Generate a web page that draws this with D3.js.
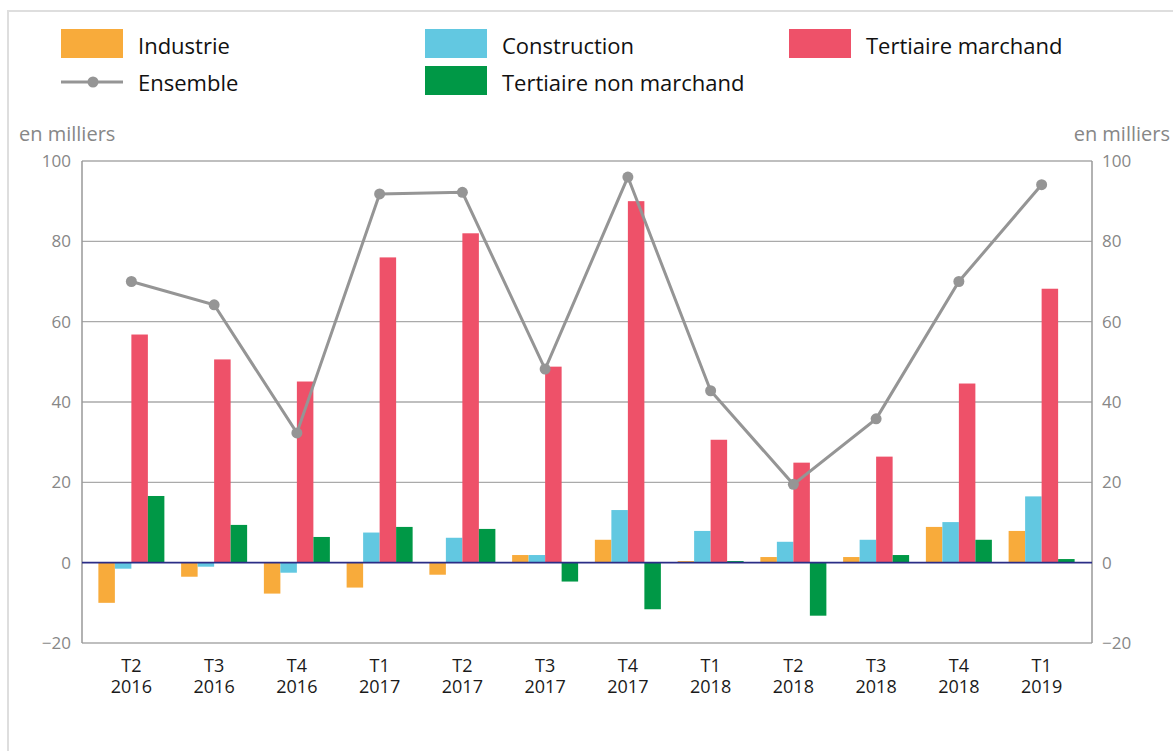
<!DOCTYPE html>
<html>
<head>
<meta charset="utf-8">
<script src="https://cdn.jsdelivr.net/npm/d3@7"></script>
<style>
  html, body { margin: 0; padding: 0; background: #fff; }
  svg { display: block; font-family: "Open Sans", "Noto Sans", sans-serif; }
</style>
</head>
<body>
<svg id="chart" width="1173" height="751"></svg>
<script>
// quarters, two-line labels
const quarters = ["T2", "T3", "T4", "T1", "T2", "T3", "T4", "T1", "T2", "T3", "T4", "T1"];
const years = ["2016", "2016", "2016", "2017", "2017", "2017", "2017", "2018", "2018", "2018", "2018", "2019"];

const industrie = [-10.0, -3.5, -7.7, -6.2, -3.0, 1.9, 5.7, 0.4, 1.4, 1.4, 8.9, 7.9];
const construction = [-1.5, -1.0, -2.5, 7.5, 6.2, 1.9, 13.1, 7.9, 5.2, 5.7, 10.1, 16.5];
const tertMarchand = [56.8, 50.6, 45.1, 76.0, 82.0, 48.8, 90.0, 30.6, 24.9, 26.4, 44.6, 68.2];
const tertNonMarchand = [16.6, 9.4, 6.4, 8.9, 8.4, -4.7, -11.6, 0.4, -13.2, 1.9, 5.7, 0.9];
const ensemble = [70.0, 64.2, 32.3, 91.8, 92.2, 48.2, 96.0, 42.8, 19.5, 35.8, 70.0, 94.1];

const yTicks = [-20, 0, 20, 40, 60, 80, 100];

const series = [
  { name: "Industrie", values: industrie, color: "#f8ab3b" },
  { name: "Construction", values: construction, color: "#62c8e1" },
  { name: "Tertiaire marchand", values: tertMarchand, color: "#ee5169" },
  { name: "Tertiaire non marchand", values: tertNonMarchand, color: "#009846" }
];
const lineColor = "#959595";

const svg = d3.select("#chart");

// outer frame
svg.append("rect")
  .attr("x", 8).attr("y", 11).attr("width", 1200).attr("height", 800)
  .attr("fill", "none").attr("stroke", "#dedede").attr("stroke-width", 2);

const axisLeft = 82, axisRight = 1092;
const idx = d3.range(quarters.length);

const x = d3.scaleBand().domain(idx).range([90, 1083]).padding(0);
const xSub = d3.scaleBand().domain(d3.range(series.length)).range([0, 66]);
const y = d3.scaleLinear().domain([-20, 100]).range([643, 161]);
const cx = i => x(i) + x.bandwidth() / 2;

// gridlines
svg.append("g").selectAll("line")
  .data(yTicks.filter(t => t !== 0))
  .join("line")
  .attr("x1", axisLeft).attr("x2", axisRight)
  .attr("y1", d => y(d)).attr("y2", d => y(d))
  .attr("stroke", "#aaaaaa").attr("stroke-width", 1.3);

// side axes
[axisLeft, axisRight].forEach(ax => {
  svg.append("line")
    .attr("x1", ax).attr("x2", ax).attr("y1", y(100)).attr("y2", y(-20))
    .attr("stroke", "#999").attr("stroke-width", 1.5);
});

// tick labels left and right
const leftAxis = d3.axisLeft(y).tickValues(yTicks).tickSize(0).tickPadding(11);
const rightAxis = d3.axisRight(y).tickValues(yTicks).tickSize(0).tickPadding(10);
[[leftAxis, axisLeft], [rightAxis, axisRight]].forEach(([a, pos]) => {
  const g = svg.append("g").attr("transform", `translate(${pos},0)`).call(a);
  g.select(".domain").remove();
  g.selectAll("text").attr("font-size", 17).attr("fill", "#878787")
    .attr("font-family", "'Open Sans', sans-serif");
});

svg.append("text").attr("x", 19).attr("y", 141).text("en milliers")
  .attr("font-size", 20).attr("fill", "#878787");
svg.append("text").attr("x", 1170).attr("y", 141).attr("text-anchor", "end").text("en milliers")
  .attr("font-size", 20).attr("fill", "#878787");

// bars
series.forEach((s, k) => {
  svg.append("g").selectAll("rect")
    .data(s.values)
    .join("rect")
    .attr("x", (d, i) => cx(i) - 33 + xSub(k))
    .attr("width", xSub.bandwidth())
    .attr("y", d => y(Math.max(0, d)))
    .attr("height", d => Math.abs(y(d) - y(0)))
    .attr("fill", s.color);
});

// zero line
svg.append("line")
  .attr("x1", axisLeft).attr("x2", axisRight).attr("y1", y(0)).attr("y2", y(0))
  .attr("stroke", "#2b2d86").attr("stroke-width", 1.8);

// Ensemble line
svg.append("path")
  .datum(ensemble)
  .attr("fill", "none").attr("stroke", lineColor).attr("stroke-width", 3)
  .attr("d", d3.line().x((d, i) => cx(i)).y(d => y(d)));
svg.append("g").selectAll("circle")
  .data(ensemble)
  .join("circle")
  .attr("cx", (d, i) => cx(i)).attr("cy", d => y(d)).attr("r", 5.5)
  .attr("fill", lineColor);

// x labels, two lines
const xg = svg.append("g").attr("text-anchor", "middle").attr("font-size", 18).attr("fill", "#1a1a1a");
xg.selectAll("text.q").data(idx).join("text").attr("class", "q")
  .attr("x", i => cx(i)).attr("y", 672).text(i => quarters[i]);
xg.selectAll("text.yr").data(idx).join("text").attr("class", "yr")
  .attr("x", i => cx(i)).attr("y", 693).text(i => years[i]);

// legend
const legendItems = [
  { name: "Industrie", color: series[0].color, x: 61, y: 29, kind: "rect" },
  { name: "Construction", color: series[1].color, x: 425, y: 29, kind: "rect" },
  { name: "Tertiaire marchand", color: series[2].color, x: 789, y: 29, kind: "rect" },
  { name: "Ensemble", color: lineColor, x: 61, y: 66, kind: "line" },
  { name: "Tertiaire non marchand", color: series[3].color, x: 425, y: 66, kind: "rect" }
];
const lg = svg.append("g").selectAll("g").data(legendItems).join("g")
  .attr("transform", d => `translate(${d.x},${d.y})`);
lg.filter(d => d.kind === "rect").append("rect")
  .attr("width", 62).attr("height", 29).attr("fill", d => d.color);
lg.filter(d => d.kind === "line").append("line")
  .attr("x1", 0).attr("x2", 62).attr("y1", 16).attr("y2", 16)
  .attr("stroke", d => d.color).attr("stroke-width", 3);
lg.filter(d => d.kind === "line").append("circle")
  .attr("cx", 32).attr("cy", 16).attr("r", 5.5).attr("fill", d => d.color);
lg.append("text")
  .attr("x", 77).attr("y", 25)
  .attr("font-size", 22).attr("fill", "#111")
  .text(d => d.name);
</script>
</body>
</html>
